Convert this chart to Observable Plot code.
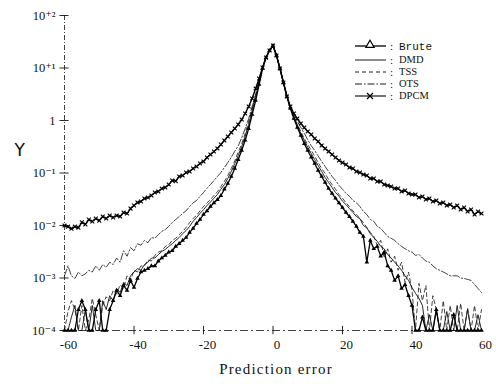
<!DOCTYPE html>
<html><head><meta charset="utf-8">
<script src="https://cdn.jsdelivr.net/npm/d3@7"></script>
<script src="https://cdn.jsdelivr.net/npm/@observablehq/plot@0.6"></script>
<style>body{margin:0;background:#fff}</style>
</head><body><div id="chart"></div>
<script>
// prediction error axis positions (-60 .. 60, step 1)
const errors = d3.range(-60, 61);

const brute = [
 0.0001,0.0001,0.0001,0.0001,0.00025,0.00037,0.00025,0.0001,0.0001,0.00025,
 0.00037,0.0001,0.0001,0.00025,0.00037,0.00058,0.00046,0.00072,0.00058,0.00090,
 0.00066,0.00098,0.0013,0.0014,0.0015,0.0017,0.0017,0.0021,0.0024,0.0027,
 0.0031,0.0033,0.0040,0.0045,0.0052,0.0059,0.0074,0.0088,0.0109,0.013,
 0.0162,0.019,0.023,0.027,0.031,0.037,0.049,0.063,0.086,0.122,
 0.18,0.27,0.42,0.70,1.30,2.40,4.85,9.78,15.8,21.5,
 26.8,
 17.3,9.78,5.30,2.87,1.69,1.09,0.74,0.52,0.36,0.27,
 0.20,0.152,0.112,0.086,0.066,0.051,0.041,0.033,0.027,0.022,
 0.0177,0.0148,0.012,0.0096,0.0074,0.0062,0.0020,0.0052,0.0036,0.0040,
 0.0026,0.0031,0.0017,0.0014,0.00090,0.0011,0.00063,0.00075,0.00046,0.00030,
 0.0001,0.0001,0.00018,0.0001,0.0001,0.0001,0.00025,0.0001,0.0001,0.0001,
 0.0001,0.0002,0.0001,0.0001,0.0001,0.0001,0.0001,0.0001,0.0001,0.0001
];
const dmd = [
 0.0001,0.0001,0.00018,0.00030,0.0001,0.0001,0.00025,0.0001,0.00030,0.0001,
 0.0001,0.00037,0.00025,0.00046,0.00037,0.00063,0.00053,0.00082,0.00072,0.0011,
 0.0013,0.0015,0.0014,0.0018,0.0020,0.0024,0.0024,0.0028,0.0032,0.0035,
 0.0040,0.0045,0.0052,0.0059,0.0070,0.0080,0.0096,0.012,0.0142,0.017,
 0.020,0.024,0.028,0.033,0.039,0.049,0.060,0.079,0.107,0.152,
 0.215,0.32,0.50,0.84,1.55,2.74,5.30,10.2,15.8,21.5,
 26.8,
 17.3,9.78,5.30,2.87,1.77,1.14,0.80,0.57,0.42,0.31,
 0.235,0.18,0.139,0.107,0.082,0.066,0.053,0.0425,0.036,0.029,
 0.025,0.021,0.0177,0.0148,0.0135,0.010,0.0090,0.0070,0.0059,0.0050,
 0.0040,0.0036,0.0028,0.0024,0.0020,0.0017,0.0014,0.0011,0.00090,0.00066,
 0.00051,0.00041,0.00030,0.0001,0.00020,0.0001,0.00025,0.0001,0.0001,0.00023,
 0.0001,0.0001,0.00030,0.0001,0.0001,0.00025,0.0001,0.0001,0.00020,0.0001
];
const tss = [
 0.0001,0.00023,0.00037,0.00025,0.0001,0.00030,0.0001,0.00016,0.00041,0.00020,
 0.0001,0.00030,0.00044,0.00037,0.00058,0.00049,0.00075,0.00063,0.0011,0.00090,
 0.0014,0.0013,0.0017,0.0017,0.0022,0.0021,0.0027,0.0031,0.0033,0.0040,
 0.0043,0.0052,0.0057,0.0067,0.0077,0.0092,0.0114,0.0136,0.0155,0.019,
 0.023,0.027,0.031,0.037,0.044,0.055,0.069,0.090,0.122,0.17,
 0.25,0.36,0.57,0.96,1.69,2.99,5.53,10.2,15.8,21.5,
 26.8,
 17.3,9.78,5.30,2.87,1.77,1.19,0.84,0.62,0.45,0.35,
 0.27,0.21,0.158,0.122,0.098,0.075,0.060,0.049,0.039,0.033,
 0.027,0.023,0.019,0.0162,0.0136,0.0114,0.0092,0.0074,0.0062,0.0042,
 0.0052,0.0024,0.0036,0.0020,0.0026,0.0014,0.0020,0.00082,0.0013,0.00058,
 0.0001,0.00079,0.00037,0.00072,0.0001,0.00046,0.00025,0.0001,0.00037,0.0001,
 0.00030,0.0001,0.0001,0.00033,0.0001,0.00027,0.0001,0.00030,0.0001,0.00025
];
const ots = [
 0.0011,0.0017,0.0011,0.00098,0.0013,0.0011,0.0012,0.0014,0.0013,0.0017,
 0.0014,0.0018,0.0016,0.0020,0.0018,0.0024,0.0020,0.0033,0.0026,0.0038,
 0.0033,0.0045,0.0042,0.0052,0.0047,0.0059,0.0057,0.0067,0.0077,0.0084,
 0.0096,0.0114,0.013,0.0148,0.017,0.019,0.023,0.027,0.030,0.036,
 0.0425,0.051,0.060,0.072,0.086,0.102,0.127,0.158,0.20,0.26,
 0.33,0.47,0.70,1.09,1.85,3.13,5.78,10.2,15.8,21.5,
 26.8,
 17.3,9.78,5.30,2.99,1.85,1.30,0.96,0.74,0.57,0.43,
 0.33,0.27,0.21,0.166,0.133,0.107,0.086,0.072,0.058,0.049,
 0.041,0.036,0.030,0.027,0.023,0.0185,0.0162,0.013,0.012,0.0096,
 0.0088,0.0074,0.0062,0.0057,0.0052,0.0045,0.0040,0.0036,0.0033,0.0031,
 0.0027,0.0028,0.0024,0.0021,0.0020,0.0017,0.0015,0.0014,0.0013,0.0012,
 0.0011,0.0011,0.0011,0.0010,0.00098,0.00094,0.00090,0.00075,0.00063,0.00053
];
const dpcm = [
 0.010,0.0095,0.0087,0.0095,0.0091,0.0115,0.0105,0.013,0.0119,0.0136,
 0.0124,0.0148,0.0136,0.0155,0.0142,0.0155,0.0148,0.0177,0.0169,0.021,
 0.024,0.0274,0.0286,0.0327,0.0341,0.0372,0.0426,0.0445,0.0507,0.053,
 0.0604,0.072,0.070,0.0857,0.0895,0.102,0.107,0.122,0.133,0.152,
 0.166,0.197,0.225,0.257,0.293,0.349,0.416,0.495,0.59,0.705,
 0.84,1.045,1.36,1.85,2.62,4.07,6.3,10.2,15.8,21.5,
 26.9,
 17.3,9.77,5.30,2.86,1.85,1.36,1.09,0.877,0.736,0.617,
 0.541,0.454,0.398,0.334,0.293,0.257,0.225,0.197,0.173,0.158,
 0.145,0.127,0.122,0.107,0.102,0.0936,0.0895,0.0785,0.0785,0.0689,
 0.0689,0.0604,0.0578,0.0553,0.0507,0.0507,0.0445,0.0464,0.0407,0.0389,
 0.0389,0.0341,0.0356,0.0313,0.0327,0.0286,0.0299,0.0262,0.0274,0.024,
 0.0251,0.022,0.024,0.0202,0.022,0.0185,0.0202,0.0162,0.0185,0.0169
];

const seriesNames = ["Brute", "DMD", "TSS", "OTS", "DPCM"];
const xTicks = [-60, -40, -20, 0, 20, 40, 60];
const xTickLabels = ["-60", "-40", "-20", "0", "20", "40", "60"];
const yTicks = [1e2, 1e1, 1, 1e-1, 1e-2, 1e-3, 1e-4];
const yTickLabels = ["10\u207A\u00B2", "10\u207A\u00B9", "1", "10\u207B\u00B9", "10\u207B\u00B2", "10\u207B\u00B3", "10\u207B\u2074"];

const valuesByName = {Brute: brute, DMD: dmd, TSS: tss, OTS: ots, DPCM: dpcm};
const rows = seriesNames.flatMap(s => valuesByName[s].map((v, i) => ({x: errors[i], y: v, s})));
const of = name => rows.filter(d => d.s === name);

const serif = "'Liberation Serif', 'DejaVu Serif', serif";

const svg = Plot.plot({
  width: 496, height: 384,
  marginLeft: 64, marginRight: 15, marginTop: 15, marginBottom: 54,
  style: {background: "white", fontFamily: serif, color: "#111"},
  x: {domain: [-60, 60]},
  y: {type: "log", domain: [1e-4, 1e2]},
  marks: [
    // axis lines
    Plot.ruleX([-60], {y1: 1e-4, y2: 1e2, strokeDasharray: "5,2,1,2", strokeWidth: 0.8}),
    Plot.ruleY([1e-4], {x1: -60, x2: 60, strokeDasharray: "8,3,2,3", strokeWidth: 0.8}),
    Plot.ruleY(yTicks, {y: d => d, x1: -61.3, x2: -58.7, strokeWidth: 0.9}),
    Plot.ruleX(xTicks.slice(1, -1), {x: d => d, y1: 0.83e-4, y2: 1.2e-4, strokeWidth: 0.9}),
    Plot.axisY({ticks: yTicks, tickFormat: d => yTickLabels[yTicks.indexOf(d)], tickSize: 0, tickPadding: 9, fontSize: 12.5, label: null}),
    Plot.axisX({ticks: xTicks, tickFormat: d => xTickLabels[xTicks.indexOf(d)], tickSize: 0, tickPadding: 9, dx: 4, fontSize: 13, label: null}),
    // series
    Plot.line(of("OTS"), {x: "x", y: "y", stroke: "#111", strokeWidth: 0.8, strokeDasharray: "7,2,1.5,2"}),
    Plot.line(of("TSS"), {x: "x", y: "y", stroke: "#111", strokeWidth: 0.8, strokeDasharray: "4,3"}),
    Plot.line(of("DMD"), {x: "x", y: "y", stroke: "#111", strokeWidth: 0.9}),
    Plot.line(of("Brute"), {x: "x", y: "y", stroke: "#000", strokeWidth: 1.3}),
    Plot.dot(of("Brute"), {x: "x", y: "y", symbol: "triangle", r: 1.7, fill: "#000"}),
    Plot.line(of("DPCM"), {x: "x", y: "y", stroke: "#000", strokeWidth: 1.4}),
    Plot.dot(of("DPCM"), {x: "x", y: "y", symbol: "times", r: 1.9, stroke: "#000", strokeWidth: 1.1}),
    // axis titles
    Plot.text(["Y"], {frameAnchor: "left", dx: -50, dy: -22, fontSize: 17, fontFamily: "'DejaVu Sans', sans-serif"}),
    Plot.text(["Prediction error"], {frameAnchor: "bottom", dx: 3, dy: 43, fontSize: 15})
  ]
});

// legend
const sel = d3.select(svg);
sel.selectAll("text").filter(function(){ return this.textContent === "Prediction error"; }).attr("letter-spacing", "1.2px");
const lg = sel.append("g").attr("fill", "none").attr("stroke", "#000");
const rowsY = [46, 60, 72, 84, 96];
const legendStyles = {
  Brute: {w: 1.3, dash: null}, DMD: {w: 0.9, dash: null}, TSS: {w: 0.9, dash: "4,3"},
  OTS: {w: 0.9, dash: "7,2,1.5,2"}, DPCM: {w: 1.1, dash: null}
};
const lt = sel.append("g").attr("text-anchor", "start").attr("fill", "#111");
seriesNames.forEach((name, i) => {
  const y = rowsY[i];
  const st = legendStyles[name];
  lg.append("line").attr("x1", 355).attr("x2", 386).attr("y1", y).attr("y2", y)
    .attr("stroke-width", st.w).attr("stroke-dasharray", st.dash);
  if (name === "Brute") {
    lg.append("path").attr("d", d3.symbol(d3.symbolTriangle, 30)()).attr("transform", `translate(370,${y - 1})`)
      .attr("fill", "#fff").attr("stroke-width", 1.2);
  }
  if (name === "DPCM") {
    lg.append("path").attr("d", "M-3,-3L3,3M-3,3L3,-3").attr("transform", `translate(370,${y})`).attr("stroke-width", 1.2);
  }
  lt.append("text").attr("x", 390).attr("y", y).attr("dy", "0.32em")
    .attr("font-size", 11).attr("font-family", serif).text(":");
  lt.append("text").attr("x", 399).attr("y", y).attr("dy", "0.32em")
    .attr("font-size", name === "Brute" ? 11 : 10.5)
    .attr("font-family", name === "Brute" ? "'Liberation Mono', monospace" : serif)
    .text(name);
});

document.getElementById("chart").appendChild(svg);
</script>
</body></html>
